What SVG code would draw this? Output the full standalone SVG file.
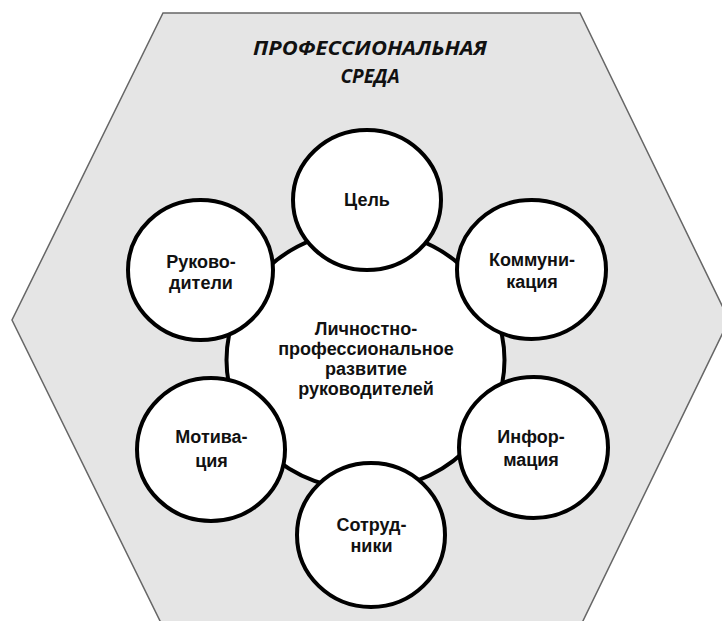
<svg xmlns="http://www.w3.org/2000/svg" width="722" height="621" viewBox="0 0 722 621">
  <style>
    .env { fill: #e5e5e5; stroke: #666666; stroke-width: 1.5; }
    .node { fill: #ffffff; stroke: #000000; stroke-width: 4; }
    .lbl { font-family: "Liberation Sans", Arial, sans-serif; font-weight: bold; font-size: 18px; fill: #111111; text-anchor: middle; }
    .title { font-family: "Open Sans", "Liberation Sans", sans-serif; font-weight: bold; font-style: italic; font-size: 19px; fill: #111111; text-anchor: middle; }
  </style>
  <rect width="722" height="621" fill="#ffffff"/>

  <!-- outer environment hexagon -->
  <g id="environment">
    <polygon class="env" points="163,13 580,13 729,320 580,627 163,627 12,320"/>
    <text class="title" x="370" y="55" textLength="234" lengthAdjust="spacingAndGlyphs">ПРОФЕССИОНАЛЬНАЯ</text>
    <text class="title" x="370" y="83">СРЕДА</text>
  </g>

  <!-- central node -->
  <g id="center">
    <ellipse class="node" cx="365.5" cy="360" rx="139" ry="130"/>
    <text class="lbl" x="366" y="335">Личностно-</text>
    <text class="lbl" x="366" y="355">профессиональное</text>
    <text class="lbl" x="366" y="375">развитие</text>
    <text class="lbl" x="366" y="395">руководителей</text>
  </g>

  <!-- surrounding factors -->
  <g id="goal">
    <ellipse class="node" cx="367" cy="200" rx="74" ry="70"/>
    <text class="lbl" x="367" y="206">Цель</text>
  </g>
  <g id="communication">
    <ellipse class="node" cx="531.5" cy="269.5" rx="74.5" ry="69.5"/>
    <text class="lbl" x="532" y="266">Коммуни-</text>
    <text class="lbl" x="532" y="288">кация</text>
  </g>
  <g id="information">
    <ellipse class="node" cx="533.5" cy="447.5" rx="74.5" ry="70.5"/>
    <text class="lbl" x="531" y="443">Инфор-</text>
    <text class="lbl" x="531" y="466">мация</text>
  </g>
  <g id="staff">
    <ellipse class="node" cx="371" cy="535" rx="74" ry="72"/>
    <text class="lbl" x="371.5" y="531">Сотруд-</text>
    <text class="lbl" x="371.5" y="552">ники</text>
  </g>
  <g id="motivation">
    <ellipse class="node" cx="211" cy="449.5" rx="74" ry="71.5"/>
    <text class="lbl" x="211.5" y="443">Мотива-</text>
    <text class="lbl" x="211.5" y="467">ция</text>
  </g>
  <g id="managers">
    <ellipse class="node" cx="200.5" cy="270" rx="72.5" ry="70"/>
    <text class="lbl" x="201" y="268">Руково-</text>
    <text class="lbl" x="201" y="289">дители</text>
  </g>
</svg>
